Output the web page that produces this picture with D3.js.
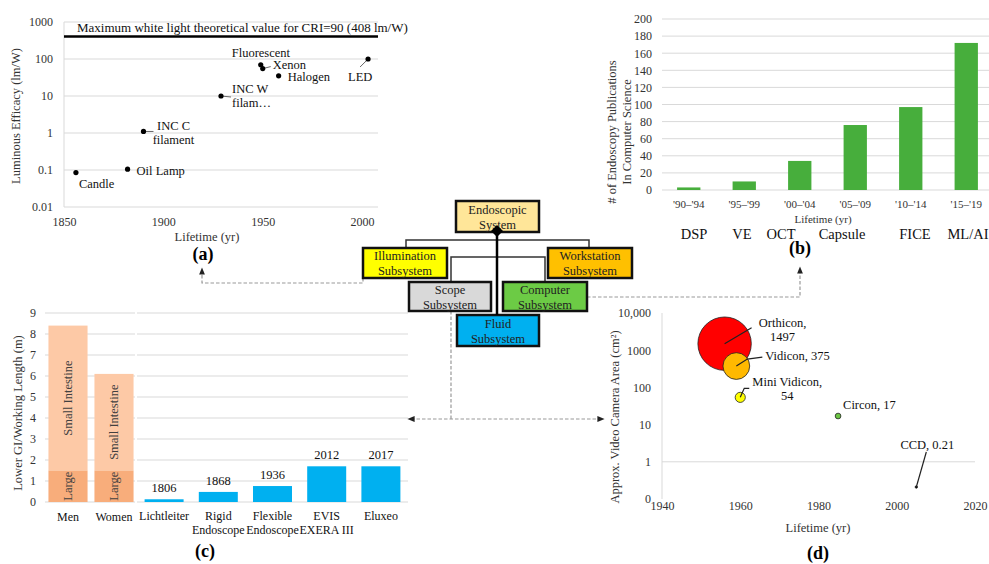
<!DOCTYPE html>
<html>
<head>
<meta charset="utf-8">
<script src="https://cdn.jsdelivr.net/npm/d3@7"></script>
<style>
    body { margin: 0; background: #fff; }
    svg { font-family: "Liberation Serif", "Times New Roman", serif; }
</style>
</head>
<body>
<div id="chart"></div>
<script>
// (a) luminous efficacy of light sources
const lampNames = ["Candle", "Oil Lamp", "INC C filament", "INC W filam…", "Fluorescent", "Xenon", "Halogen", "LED"];
const lampYears = [1856, 1882, 1890, 1929, 1949, 1950, 1958, 2003];
const lampEfficacy = [0.085, 0.105, 1.1, 10, 70, 55, 35, 100];
const lampTicksX = [1850, 1900, 1950, 2000];
const lampTicksY = [0.01, 0.1, 1, 10, 100, 1000];
const criLimit = 408;

// (b) publications per period
const pubPeriods = ["'90–'94", "'95–'99", "'00–'04", "'05–'09", "'10–'14", "'15–'19"];
const pubCounts = [3, 10, 34, 76, 97, 172];
const pubTech = ["DSP", "VE", "OCT", "Capsule", "FICE", "ML/AI"];
const pubTicksY = [0, 20, 40, 60, 80, 100, 120, 140, 160, 180, 200];

// (c) lower GI length vs. scope working length
const giGroups = ["Men", "Women"];
const giLarge = [1.5, 1.5];
const giSmall = [6.9, 4.6];
const scopeNames = [["Lichtleiter"], ["Rigid", "Endoscope"], ["Flexible", "Endoscope"], ["EVIS", "EXERA III"], ["Eluxeo"]];
const scopeLengths = [0.13, 0.48, 0.76, 1.7, 1.7];
const scopeYears = [1806, 1868, 1936, 2012, 2017];
const lengthTicksY = [0, 1, 2, 3, 4, 5, 6, 7, 8, 9];

// (d) video camera area
const cameraNames = ["Orthicon", "Vidicon", "Mini Vidicon", "Circon", "CCD"];
const cameraYears = [1956, 1959, 1960, 1985, 2005];
const cameraAreas = [1497, 375, 54, 17, 0.21];
const cameraColors = ["#ff0000", "#ffb900", "#ffff00", "#6cc644", "#000000"];
const cameraTicksX = [1940, 1960, 1980, 2000, 2020];
const cameraTicksY = [0.1, 1, 10, 100, 1000, 10000];

// centre diagram
const subsystems = ["Endoscopic System", "Illumination Subsystem", "Workstation Subsystem",
                    "Scope Subsystem", "Computer Subsystem", "Fluid Subsystem"];
const subsystemColors = ["#ffe699", "#ffff00", "#ffc000", "#d9d9d9", "#6ccb45", "#00b0f0"];

const W = 989, H = 564;
const svg = d3.select("#chart").append("svg").attr("width", W).attr("height", H);

const defs = svg.append("defs");
defs.append("marker").attr("id", "arr")
    .attr("viewBox", "0 0 10 10").attr("refX", 5).attr("refY", 5)
    .attr("markerWidth", 6).attr("markerHeight", 6).attr("orient", "auto-start-reverse")
    .append("path").attr("d", "M0,1 L10,5 L0,9 Z").attr("fill", "#222");

function styleAxis(sel, size) {
    sel.attr("font-family", null).attr("font-size", size);
    sel.select(".domain").remove();
    sel.selectAll(".tick line").remove();
    sel.selectAll("text").attr("fill", "#333");
}

function textLines(g, lines, x, y, lh, size, anchor) {
    const t = g.append("text").attr("x", x).attr("y", y)
        .attr("font-size", size).attr("text-anchor", anchor || "middle").attr("fill", "#111");
    lines.forEach((l, i) => {
        t.append("tspan").attr("x", x).attr("dy", i === 0 ? "0.35em" : lh).text(l);
    });
    return t;
}

function vTitle(g, label, x, y, size) {
    g.append("text").attr("transform", `translate(${x},${y}) rotate(-90)`)
        .attr("text-anchor", "middle").attr("dy", "0.35em")
        .attr("font-size", size).attr("fill", "#333").text(label);
}

function drawLamps() {
    const g = svg.append("g");
    const x = d3.scaleLinear().domain([1850, 2008]).range([64, 378]);
    const y = d3.scaleLog().domain([0.01, 1000]).range([207, 22]);

    g.append("g").selectAll("line").data(lampTicksY).join("line")
        .attr("x1", x.range()[0]).attr("x2", x.range()[1])
        .attr("y1", d => y(d)).attr("y2", d => y(d))
        .attr("stroke", "#d9d9d9");
    g.append("line").attr("x1", 64).attr("x2", 64).attr("y1", y(1000)).attr("y2", y(0.01))
        .attr("stroke", "#d9d9d9");

    g.append("g").attr("transform", "translate(64,0)")
        .call(d3.axisLeft(y).tickValues(lampTicksY).tickFormat(d3.format("~g")).tickSize(0).tickPadding(11))
        .call(styleAxis, 12);
    g.append("g").attr("transform", "translate(0,207)")
        .call(d3.axisBottom(x).tickValues(lampTicksX).tickFormat(d3.format("d")).tickSize(0).tickPadding(10))
        .call(styleAxis, 12);

    // theoretical maximum
    g.append("line").attr("x1", x.range()[0]).attr("x2", x.range()[1])
        .attr("y1", y(criLimit)).attr("y2", y(criLimit))
        .attr("stroke", "#000").attr("stroke-width", 2.5);
    g.append("text").attr("x", 77).attr("y", 27).attr("dy", "0.35em").attr("font-size", 13)
        .attr("fill", "#111").text("Maximum white light theoretical value for CRI=90 (408 lm/W)");

    // label layout: [dx, dy, anchor, lines, leader end dx, dy]
    const lab = [
        [3, 11, "start", ["Candle"], null],
        [9, 1, "start", ["Oil Lamp"], null],
        [30, -6, "middle", ["INC C", "filament"], [10, 0]],
        [11, -7, "start", ["INC W", "filam…"], [10, 1]],
        [-29, -12, "start", ["Fluorescent"], null],
        [10, -4, "start", ["Xenon"], [8, -2]],
        [9, 1, "start", ["Halogen"], null],
        [-20, 18, "start", ["LED"], [-8, 8]]
    ];
    lampNames.forEach((n, i) => {
        const px = x(lampYears[i]), py = y(lampEfficacy[i]);
        const L = lab[i];
        if (L[4]) g.append("line").attr("x1", px).attr("y1", py)
            .attr("x2", px + L[4][0]).attr("y2", py + L[4][1]).attr("stroke", "#666");
        textLines(g, L[3], px + L[0], py + L[1], 14, 12.5, L[2]);
    });
    g.append("g").selectAll("circle").data(lampNames).join("circle")
        .attr("cx", (d, i) => x(lampYears[i])).attr("cy", (d, i) => y(lampEfficacy[i]))
        .attr("r", 2.6).attr("fill", "#000");

    vTitle(g, "Luminous Efficacy (lm/W)", 16, 116, 12.5);
    g.append("text").attr("x", 207).attr("y", 237).attr("dy", "0.35em").attr("text-anchor", "middle")
        .attr("font-size", 12.5).attr("fill", "#333").text("Lifetime (yr)");
    g.append("text").attr("x", 203).attr("y", 254).attr("dy", "0.35em").attr("text-anchor", "middle")
        .attr("font-size", 18).attr("font-weight", "bold").text("(a)");
}

function drawPubs() {
    const g = svg.append("g");
    const x = d3.scaleBand().domain(pubPeriods).range([661, 994]);
    const y = d3.scaleLinear().domain([0, 200]).range([190, 19]);

    g.append("g").selectAll("line").data(pubTicksY).join("line")
        .attr("x1", 662).attr("x2", W).attr("y1", d => y(d)).attr("y2", d => y(d))
        .attr("stroke", "#d9d9d9");
    g.append("g").attr("transform", "translate(662,0)")
        .call(d3.axisLeft(y).tickValues(pubTicksY).tickSize(0).tickPadding(10))
        .call(styleAxis, 12);
    g.append("g").attr("transform", "translate(0,190)")
        .call(d3.axisBottom(x).tickSize(0).tickPadding(10))
        .call(styleAxis, 11);

    const bw = x.bandwidth() * 0.42;
    g.append("g").selectAll("rect").data(pubPeriods).join("rect")
        .attr("x", d => x(d) + (x.bandwidth() - bw) / 2)
        .attr("width", bw)
        .attr("y", (d, i) => y(pubCounts[i]))
        .attr("height", (d, i) => y(0) - y(pubCounts[i]))
        .attr("fill", "#47ae3c");

    g.append("text").attr("x", 823).attr("y", 219).attr("dy", "0.35em").attr("text-anchor", "middle")
        .attr("font-size", 11).attr("fill", "#333").text("Lifetime (yr)");
    const techX = [694, 742, 781, 842, 915, 968];
    g.append("g").selectAll("text").data(pubTech).join("text")
        .attr("x", (d, i) => techX[i]).attr("y", 234).attr("dy", "0.35em").attr("text-anchor", "middle")
        .attr("font-size", 14.5).attr("fill", "#111").text(d => d);

    vTitle(g, "# of Endoscopy Publications", 612, 132, 12.5);
    vTitle(g, "In Computer Science", 627, 132, 12.5);
    g.append("text").attr("x", 800).attr("y", 248).attr("dy", "0.35em").attr("text-anchor", "middle")
        .attr("font-size", 18).attr("font-weight", "bold").text("(b)");
}

function drawLengths() {
    const g = svg.append("g");
    const y = d3.scaleLinear().domain([0, 9]).range([502, 313]);
    const xl = d3.scaleBand().domain(giGroups).range([45, 137]);
    const xr = d3.scaleBand().domain(scopeYears).range([137, 408]);

    g.append("g").selectAll("line").data(lengthTicksY).join("line")
        .attr("x1", 45).attr("x2", 135).attr("y1", d => y(d)).attr("y2", d => y(d)).attr("stroke", "#d9d9d9");
    g.append("g").selectAll("line").data(lengthTicksY).join("line")
        .attr("x1", 137).attr("x2", 408).attr("y1", d => y(d)).attr("y2", d => y(d)).attr("stroke", "#d9d9d9");
    g.append("g").attr("transform", "translate(45,0)")
        .call(d3.axisLeft(y).tickValues(lengthTicksY).tickSize(0).tickPadding(9))
        .call(styleAxis, 12);

    // anatomy
    const bwl = xl.bandwidth() * 0.85;
    giGroups.forEach((d, i) => {
        const bx = xl(d) + (xl.bandwidth() - bwl) / 2;
        const cx = bx + bwl / 2;
        const top = giLarge[i] + giSmall[i];
        g.append("rect").attr("x", bx).attr("width", bwl)
            .attr("y", y(top)).attr("height", y(giLarge[i]) - y(top)).attr("fill", "#fdc9a6");
        g.append("rect").attr("x", bx).attr("width", bwl)
            .attr("y", y(giLarge[i])).attr("height", y(0) - y(giLarge[i])).attr("fill", "#f8ad7b");
        g.append("text").attr("transform", `translate(${cx},${(y(top) + y(giLarge[i])) / 2}) rotate(-90)`)
            .attr("text-anchor", "middle").attr("dy", "0.35em").attr("font-size", 12.5)
            .attr("fill", "#404040").text("Small Intestine");
        g.append("text").attr("transform", `translate(${cx},${(y(giLarge[i]) + y(0)) / 2}) rotate(-90)`)
            .attr("text-anchor", "middle").attr("dy", "0.35em").attr("font-size", 12.5)
            .attr("fill", "#404040").text("Large");
        textLines(g, [d], cx, 517, 14, 12);
    });

    // endoscopes
    const bwr = 39;
    g.append("g").selectAll("rect").data(scopeYears).join("rect")
        .attr("x", d => xr(d) + (xr.bandwidth() - bwr) / 2).attr("width", bwr)
        .attr("y", (d, i) => y(scopeLengths[i]))
        .attr("height", (d, i) => y(0) - y(scopeLengths[i]))
        .attr("fill", "#00b0f0");
    g.append("g").selectAll("text").data(scopeYears).join("text")
        .attr("x", d => xr(d) + xr.bandwidth() / 2)
        .attr("y", (d, i) => y(scopeLengths[i]) - 7)
        .attr("text-anchor", "middle").attr("font-size", 12.5).attr("fill", "#111").text(d => d);
    scopeYears.forEach((d, i) => {
        textLines(g, scopeNames[i], xr(d) + xr.bandwidth() / 2, 516, 14, 12);
    });

    vTitle(g, "Lower GI/Working Length (m)", 18, 413, 12.5);
    g.append("text").attr("x", 205).attr("y", 551).attr("dy", "0.35em").attr("text-anchor", "middle")
        .attr("font-size", 18).attr("font-weight", "bold").text("(c)");
}

function drawCameras() {
    const g = svg.append("g");
    const x = d3.scaleLinear().domain([1940, 2020]).range([662, 975]);
    const y = d3.scaleLog().domain([0.1, 10000]).range([499, 313]);
    const r = d3.scaleSqrt().domain([0, 1497]).range([0, 26.7]);

    g.append("line").attr("x1", 662).attr("x2", 662).attr("y1", y(10000)).attr("y2", y(0.1)).attr("stroke", "#d9d9d9");
    g.append("line").attr("x1", 662).attr("x2", 975).attr("y1", y(1)).attr("y2", y(1)).attr("stroke", "#d9d9d9");

    const fmt = d => d < 1 ? "0" : d3.format(d >= 10000 ? "," : "d")(d);
    g.append("g").attr("transform", "translate(662,0)")
        .call(d3.axisLeft(y).tickValues(cameraTicksY).tickFormat(fmt).tickSize(0).tickPadding(11))
        .call(styleAxis, 12);
    g.append("g").attr("transform", "translate(0,499)")
        .call(d3.axisBottom(x).tickValues(cameraTicksX).tickFormat(d3.format("d")).tickSize(0).tickPadding(2))
        .call(styleAxis, 12);

    // label layout: [dx, dy, anchor, lines, leader points]
    const lab = [
        [58, -21, "middle", ["Orthicon,", "1497"], [[27, -16]]],
        [29, -10, "start", ["Vidicon, 375"], [[11, -7], [26, -9]]],
        [47, -16, "middle", ["Mini Vidicon,", "54"], [[4, -9], [9, -9]]],
        [5, -11, "start", ["Circon, 17"], null],
        [11, -42, "middle", ["CCD, 0.21"], [[10, -35]]]
    ];
    g.append("g").selectAll("circle").data(cameraNames).join("circle")
        .attr("cx", (d, i) => x(cameraYears[i])).attr("cy", (d, i) => y(cameraAreas[i]))
        .attr("r", (d, i) => Math.max(r(cameraAreas[i]), 1.2))
        .attr("fill", (d, i) => cameraColors[i]).attr("stroke", "#222").attr("stroke-width", 0.8);
    cameraNames.forEach((n, i) => {
        const px = x(cameraYears[i]), py = y(cameraAreas[i]);
        const L = lab[i];
        if (L[4]) {
            const pts = [[px, py]].concat(L[4].map(p => [px + p[0], py + p[1]]));
            g.append("path").attr("d", d3.line()(pts)).attr("fill", "none")
                .attr("stroke", "#222").attr("stroke-width", 1.2);
        }
        textLines(g, L[3], px + L[0], py + L[1], 14, 12.5, L[2]);
    });

    vTitle(g, "Approx. Video Camera Area (cm²)", 615, 417, 12.5);
    g.append("text").attr("x", 818).attr("y", 528).attr("dy", "0.35em").attr("text-anchor", "middle")
        .attr("font-size", 12.5).attr("fill", "#333").text("Lifetime (yr)");
    g.append("text").attr("x", 818).attr("y", 553).attr("dy", "0.35em").attr("text-anchor", "middle")
        .attr("font-size", 18).attr("font-weight", "bold").text("(d)");
}

function drawDiagram() {
    const g = svg.append("g");
    // box layout: x, y, w, h
    const boxes = [
        [456, 201, 83, 31], [363, 248, 84, 30], [548, 248, 84, 30],
        [409, 282, 82, 29], [503, 282, 84, 29], [457, 315, 82, 31]
    ];

    // dashed links to panels
    const dash = { stroke: "#999", "stroke-width": 1.2, "stroke-dasharray": "3.5,2", fill: "none" };
    const link = d => {
        const p = g.append("path").attr("d", d);
        Object.entries(dash).forEach(([k, v]) => p.attr(k, v));
        return p;
    };
    link("M363,278 V283 H202 V271").attr("marker-end", "url(#arr)");
    link("M587,297 H800 V270").attr("marker-end", "url(#arr)");
    link("M451,311 V419");
    link("M411,419 H601").attr("marker-start", "url(#arr)").attr("marker-end", "url(#arr)");

    // tree connectors
    const conn = "#333";
    g.append("path").attr("d", "M406,248 V240 H589 V248").attr("fill", "none").attr("stroke", conn).attr("stroke-width", 1.5);
    g.append("path").attr("d", "M451,282 V257 H545 V282").attr("fill", "none").attr("stroke", conn).attr("stroke-width", 1.5);

    subsystems.forEach((s, i) => {
        const b = boxes[i];
        g.append("rect").attr("x", b[0]).attr("y", b[1]).attr("width", b[2]).attr("height", b[3])
            .attr("fill", subsystemColors[i]).attr("stroke", "#111").attr("stroke-width", 2.5);
        const words = s.split(" ");
        textLines(g, words, b[0] + b[2] / 2, b[1] + b[3] / 2 - 7, 15, 12.5).attr("fill", "#222");
    });

    g.append("line").attr("x1", 497).attr("x2", 497).attr("y1", 232).attr("y2", 315)
        .attr("stroke", "#000").attr("stroke-width", 2.5);
    g.append("path").attr("d", "M497,225 L503,231 L497,237 L491,231 Z").attr("fill", "#000");
}

drawLamps();
drawPubs();
drawLengths();
drawCameras();
drawDiagram();
</script>
</body>
</html>
